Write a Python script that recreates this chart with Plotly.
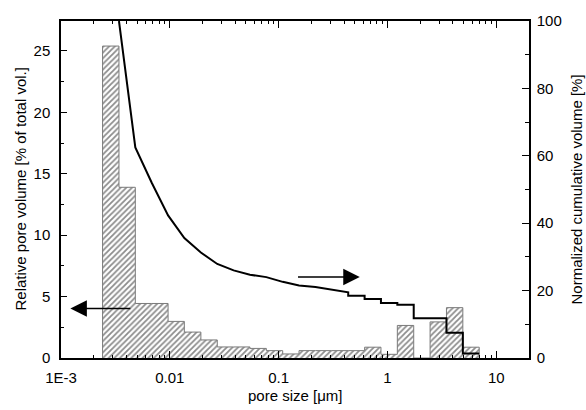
import plotly.graph_objects as go
import math

# ---- data ----
bin_edges = [0.00241, 0.00341, 0.00482, 0.00682, 0.00964, 0.0136, 0.0193, 0.0273,
             0.0386, 0.0545, 0.0771, 0.109, 0.154, 0.218, 0.308, 0.436, 0.617,
             0.872, 1.233, 1.744, 2.466, 3.487, 4.932, 6.975]
rel_volume = [25.4, 13.9, 4.44, 4.44, 2.98, 2.11, 1.47, 0.9, 0.9, 0.78, 0.6, 0.33,
              0.6, 0.6, 0.6, 0.6, 0.88, 0.3, 2.65, 0.0, 2.94, 4.1, 0.88]

cum_x = [0.00341, 0.00482, 0.00682, 0.00964, 0.0136, 0.0193, 0.0273, 0.0386,
         0.0545, 0.0771, 0.109, 0.154, 0.218, 0.308, 0.436,
         0.436, 0.617, 0.617, 0.872, 0.872, 1.233, 1.233, 1.744, 1.744,
         3.487, 3.487, 4.932, 4.932, 6.975]
cum_y = [100, 62.5, 52.0, 42.3, 35.6, 31.3, 27.9, 26.0,
         24.7, 24.0, 22.6, 21.5, 21.1, 20.2, 19.5,
         18.5, 18.5, 17.5, 17.5, 16.3, 16.3, 15.8, 15.8, 11.8,
         11.8, 7.5, 7.5, 1.3, 1.3]

x_tickvals = [0.001, 0.01, 0.1, 1, 10]
x_ticktext = ["1E-3", "0.01", "0.1", "1", "10"]
y_left_ticks = [0, 5, 10, 15, 20, 25]
y_right_ticks = [0, 20, 40, 60, 80, 100]

x_title = "pore size [\u03bcm]"
y_left_title = "Relative pore volume [% of total vol.]"
y_right_title = "Normalized cumulative volume [%]"

# histogram outline points (step shape)
hist_x = [bin_edges[0]] + bin_edges
hist_y = [0] + rel_volume + [0]

FONT = "Liberation Sans, Arial, sans-serif"
FS = 15
W, H = 586, 410
ML, MR, MT, MB = 61, 57, 12, 52
PW = W - ML - MR
PH = H - MT - MB

fig = go.Figure()
fig.add_trace(go.Scatter(
    x=hist_x, y=hist_y, mode="lines", line_shape="hv",
    line=dict(color="#7a7a7a", width=1),
    fill="tozeroy", fillcolor="rgba(255,255,255,0)",
    fillpattern=dict(shape="/", size=4, solidity=0.45, fgcolor="#1a1a1a", bgcolor="white"),
    xaxis="x", yaxis="y", showlegend=False, hoverinfo="skip"))
fig.add_trace(go.Scatter(
    x=cum_x, y=cum_y, mode="lines", line=dict(color="black", width=2),
    xaxis="x", yaxis="y2", showlegend=False, hoverinfo="skip"))

xr = [math.log10(0.001), math.log10(20)]
fig.update_layout(
    width=W, height=H,
    margin=dict(l=ML, r=MR, t=MT, b=MB),
    paper_bgcolor="white", plot_bgcolor="white",
    font=dict(family=FONT, size=FS, color="black"),
    xaxis=dict(type="log", range=xr, tickvals=x_tickvals, ticktext=x_ticktext,
               ticks="inside", ticklen=7, tickwidth=1, tickcolor="black",
               minor=dict(ticks="inside", ticklen=3.5, dtick="D1", tickcolor="black", showgrid=False),
               showline=True, linecolor="black", linewidth=1.5, mirror="ticks",
               showgrid=False, zeroline=False, ticklabelstandoff=5),
    xaxis3=dict(type="log", range=xr, overlaying="x", anchor="y", side="bottom",
                tickvals=x_tickvals, showticklabels=False,
                ticks="outside", ticklen=6, tickwidth=1, tickcolor="black",
                minor=dict(ticks="outside", ticklen=3.5, dtick="D1", tickcolor="black", showgrid=False),
                showline=False, showgrid=False, zeroline=False),
    yaxis=dict(range=[0, 27.44], tickvals=y_left_ticks,
               ticks="inside", ticklen=6, tickcolor="black",
               minor=dict(ticks="inside", ticklen=3.5, dtick=2.5, tickcolor="black", showgrid=False),
               showline=True, linecolor="black", linewidth=1.5,
               showgrid=False, zeroline=False, ticklabelstandoff=6),
    yaxis2=dict(range=[0, 100], tickvals=y_right_ticks, overlaying="y", side="right", anchor="x",
                ticks="inside", ticklen=7, tickcolor="black",
                minor=dict(ticks="inside", ticklen=4, dtick=10, tickcolor="black", showgrid=False),
                showline=True, linecolor="black", linewidth=1.5,
                showgrid=False, zeroline=False, ticklabelstandoff=3),
)

# axis titles (positions given in window pixels, converted to paper units)
def px_x(px):
    return (px - ML) / PW

def px_y(py):
    return 1 - (py - MT) / PH

fig.add_annotation(text=x_title, xref="paper", yref="paper", x=0.5, y=px_y(397),
                   xanchor="center", yanchor="middle", showarrow=False, font=dict(size=FS))
fig.add_annotation(text=y_left_title, xref="paper", yref="paper", x=px_x(20), y=0.5,
                   textangle=-90, xanchor="center", yanchor="middle", showarrow=False, font=dict(size=FS))
fig.add_annotation(text=y_right_title, xref="paper", yref="paper", x=px_x(576), y=0.5,
                   textangle=-90, xanchor="center", yanchor="middle", showarrow=False, font=dict(size=FS))

# arrows
fig.add_annotation(x=math.log10(0.00122), y=4.04, ax=math.log10(0.00448), ay=4.04,
                   xref="x", yref="y", axref="x", ayref="y", text="", showarrow=True,
                   arrowhead=2, arrowsize=2.2, arrowwidth=1.5, arrowcolor="black")
fig.add_annotation(x=math.log10(0.557), y=24.05, ax=math.log10(0.146), ay=24.05,
                   xref="x", yref="y2", axref="x", ayref="y2", text="", showarrow=True,
                   arrowhead=2, arrowsize=2.2, arrowwidth=1.5, arrowcolor="black")

fig.write_html("out.html", config={"displayModeBar": False},
               post_script="document.body.style.margin='0';document.body.style.overflow='hidden';")
